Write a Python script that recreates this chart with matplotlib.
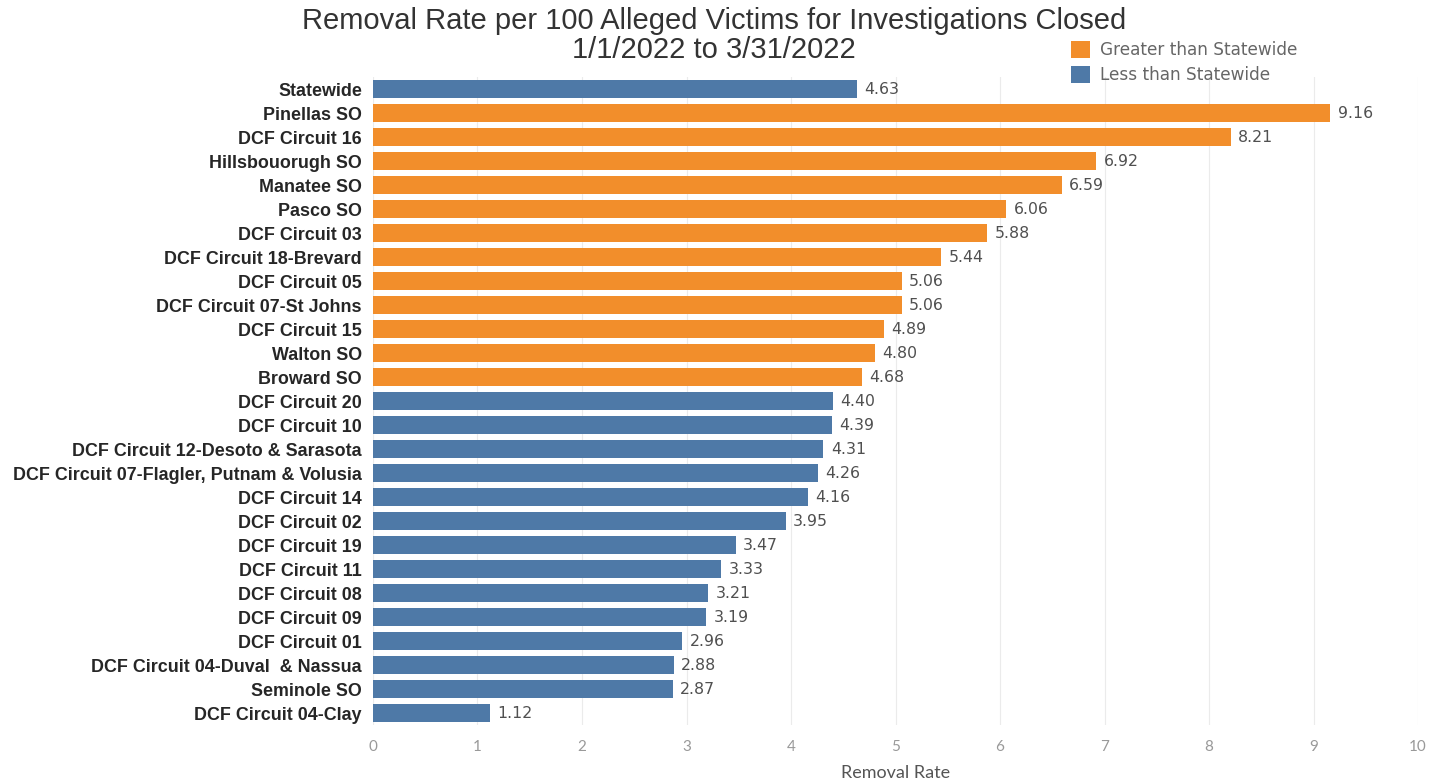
import matplotlib
matplotlib.use("Agg")
import matplotlib.pyplot as plt
from matplotlib.patches import Patch

categories = ["Statewide", "Pinellas SO", "DCF Circuit 16", "Hillsbouorugh SO", "Manatee SO",
              "Pasco SO", "DCF Circuit 03", "DCF Circuit 18-Brevard", "DCF Circuit 05",
              "DCF Circuit 07-St Johns", "DCF Circuit 15", "Walton SO", "Broward SO",
              "DCF Circuit 20", "DCF Circuit 10", "DCF Circuit 12-Desoto & Sarasota",
              "DCF Circuit 07-Flagler, Putnam & Volusia", "DCF Circuit 14", "DCF Circuit 02",
              "DCF Circuit 19", "DCF Circuit 11", "DCF Circuit 08", "DCF Circuit 09",
              "DCF Circuit 01", "DCF Circuit 04-Duval  & Nassua", "Seminole SO",
              "DCF Circuit 04-Clay"]
values = [4.63, 9.16, 8.21, 6.92, 6.59, 6.06, 5.88, 5.44, 5.06, 5.06, 4.89, 4.80, 4.68,
          4.40, 4.39, 4.31, 4.26, 4.16, 3.95, 3.47, 3.33, 3.21, 3.19, 2.96, 2.88, 2.87, 1.12]
x_ticks = [0, 1, 2, 3, 4, 5, 6, 7, 8, 9, 10]
legend_labels = ["Greater than Statewide", "Less than Statewide"]

ORANGE = "#F28E2B"
BLUE = "#4E79A7"
statewide = values[0]
colors = [ORANGE if (i > 0 and v > statewide) else BLUE for i, v in enumerate(values)]

fig = plt.figure(figsize=(14.44, 7.82), dpi=100)
ax = fig.add_axes([373/1444, 1 - 725/782, (1418 - 373)/1444, 648/782])

ypos = list(range(len(categories)))
ax.barh(ypos, values, height=0.75, color=colors, zorder=2)
ax.set_ylim(len(categories) - 0.5, -0.5)
ax.set_xlim(0, 10)
ax.set_xticks(x_ticks)
ax.set_xticklabels([str(t) for t in x_ticks], color="#999999", fontsize=11, family="Lato")
ax.set_yticks(ypos)
ax.set_yticklabels(categories, fontsize=12.9, family="Liberation Sans", weight="bold",
                   color="#262626")
ax.tick_params(axis="both", length=0)
ax.tick_params(axis="y", pad=8)
ax.tick_params(axis="x", pad=11)
ax.grid(axis="x", color="#ebebeb", linewidth=0.8, zorder=0)
for s in ax.spines.values():
    s.set_visible(False)

for y, v in zip(ypos, values):
    ax.text(v + 0.07, y, f"{v:.2f}", va="center", ha="left", fontsize=11.3,
            family="DejaVu Sans", color="#505050")

ax.set_xlabel("Removal Rate", fontsize=13, family="Lato", color="#555555", labelpad=8)

fig.text(714/1444, 1 - 21/782, "Removal Rate per 100 Alleged Victims for Investigations Closed",
         ha="center", va="center", fontsize=21, family="Liberation Sans", color="#333333")
fig.text(714/1444, 1 - 50/782, "1/1/2022 to 3/31/2022",
         ha="center", va="center", fontsize=21, family="Liberation Sans", color="#333333")

handles = [Patch(facecolor=ORANGE), Patch(facecolor=BLUE)]
leg = fig.legend(handles, legend_labels, loc="upper left", bbox_to_anchor=(1064/1444, 1 - 34/782),
                 frameon=False, prop={"family": "DejaVu Sans", "size": 12.2},
                 handlelength=1.15, handleheight=1.15,
                 handletextpad=0.55, labelspacing=0.42, borderaxespad=0)
for t in leg.get_texts():
    t.set_color("#666666")

fig.savefig("out.png", dpi=100)
